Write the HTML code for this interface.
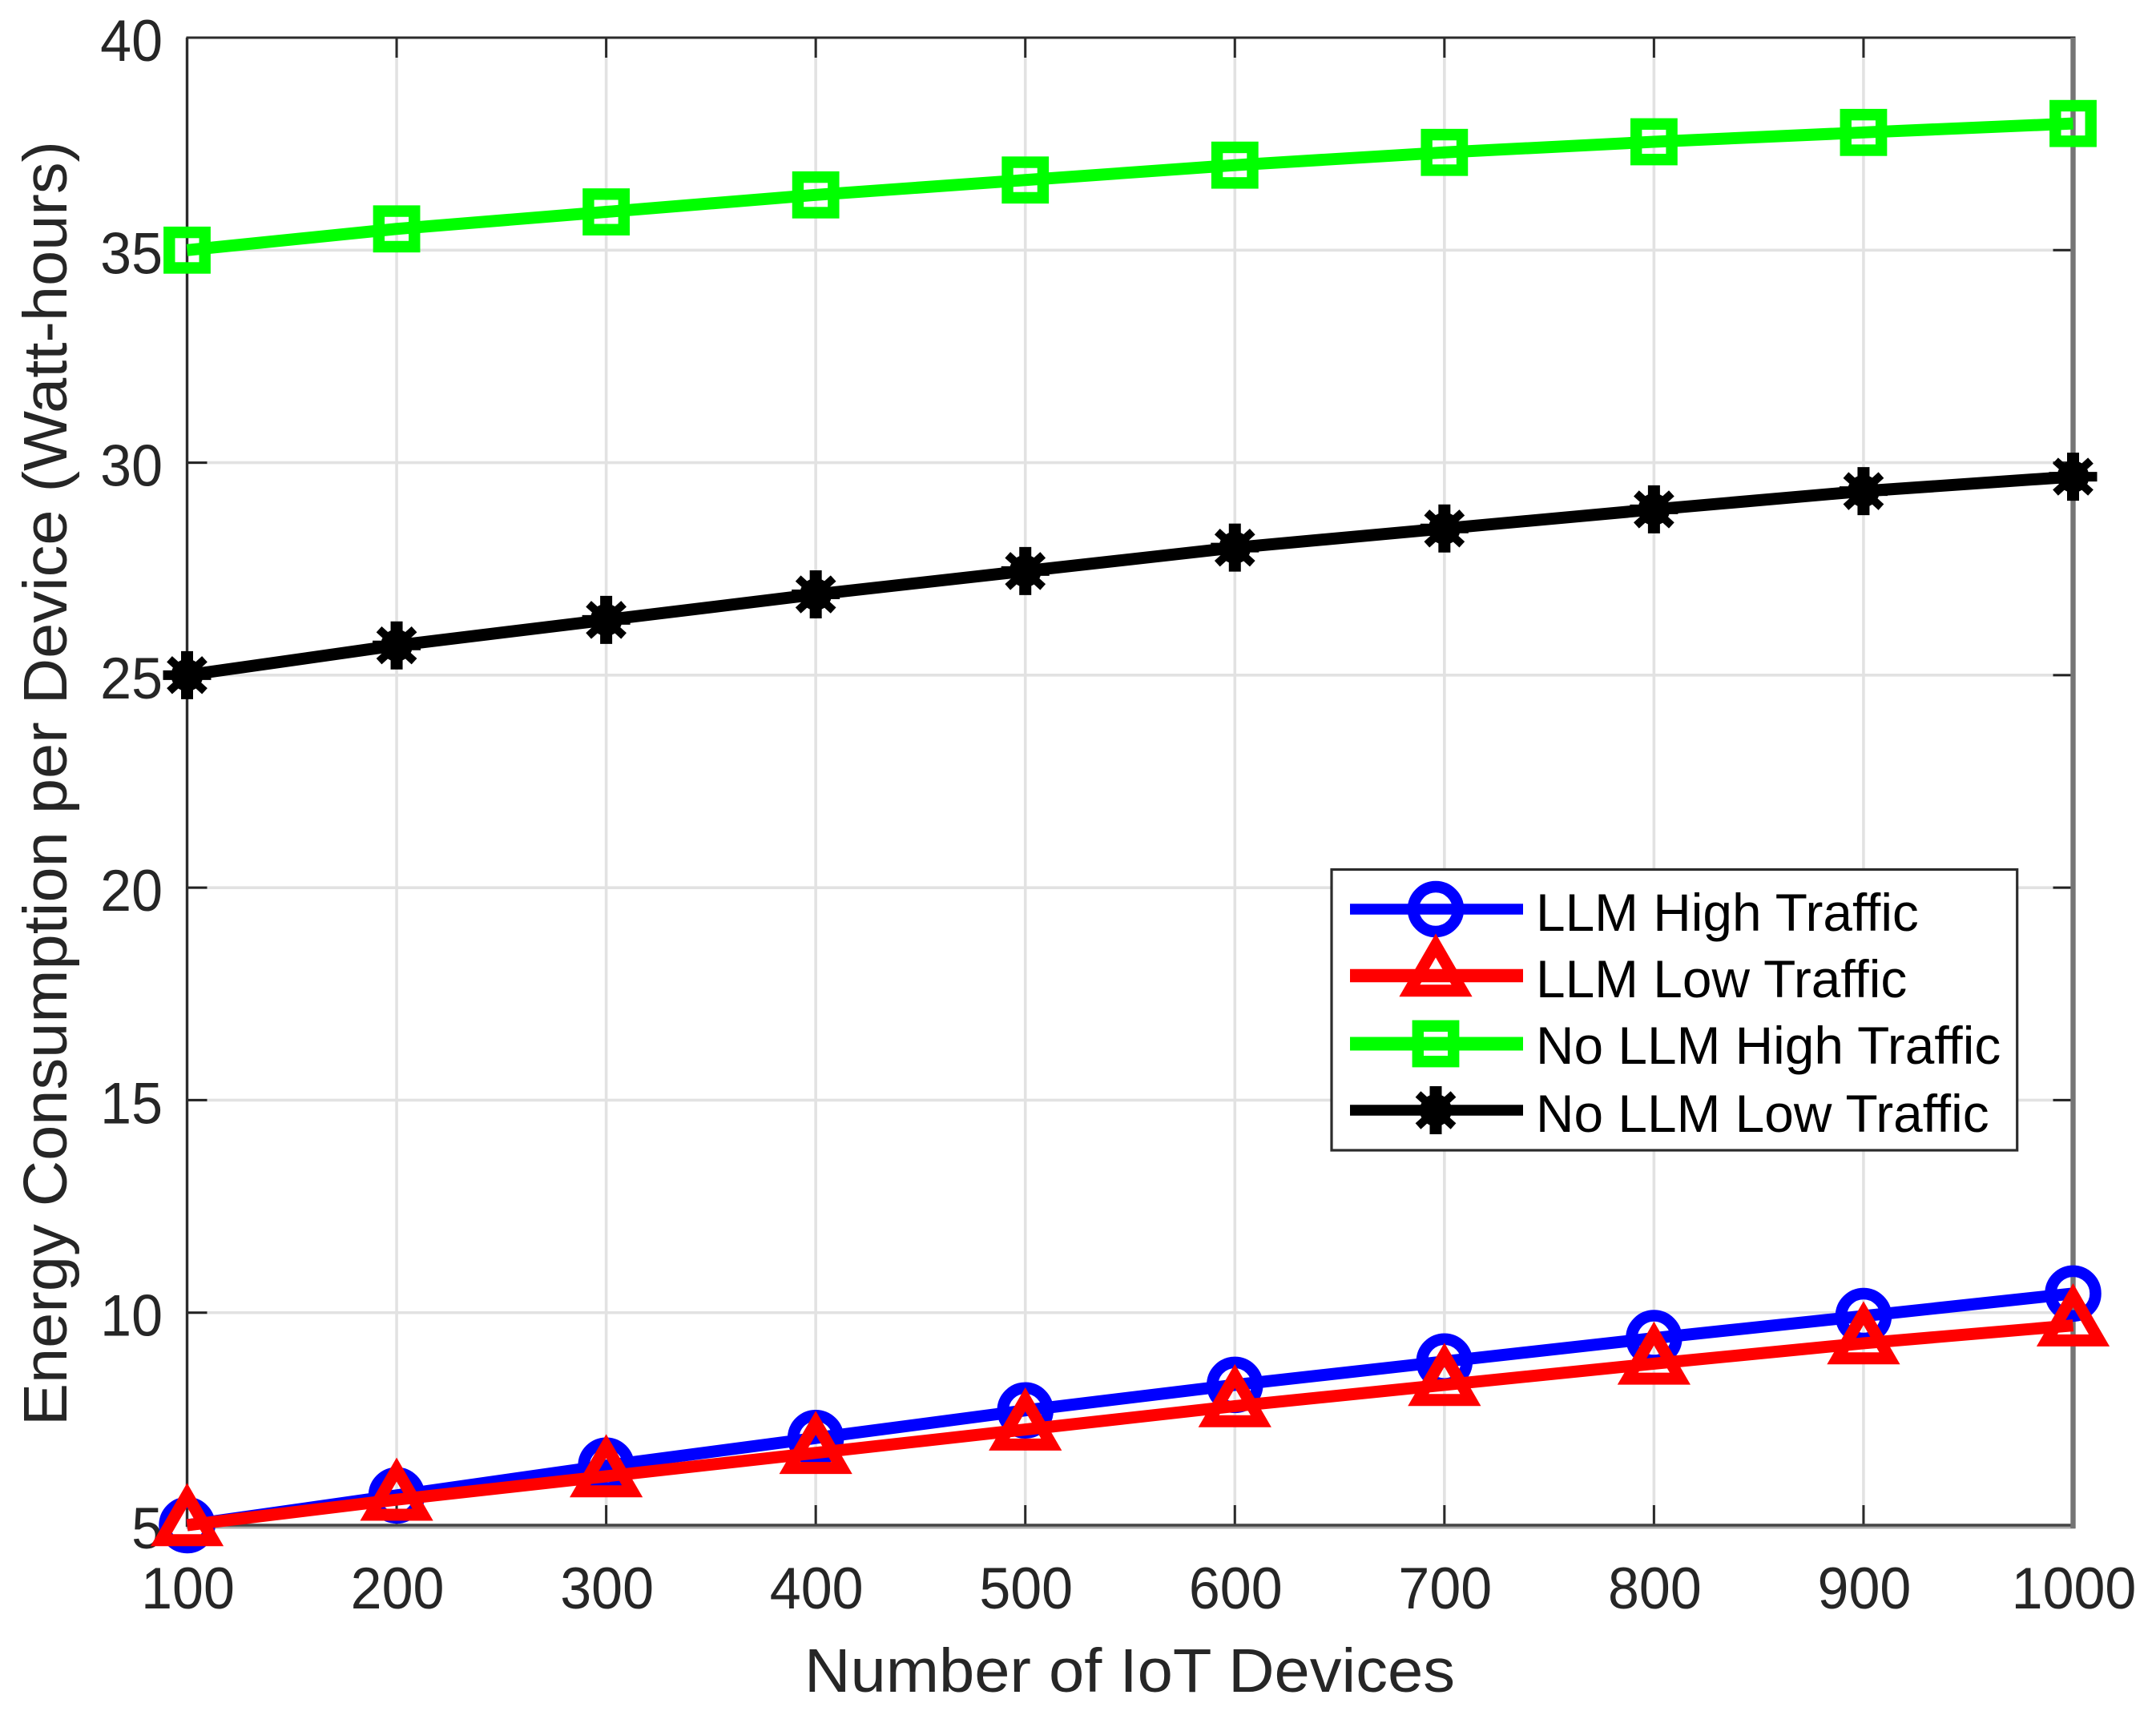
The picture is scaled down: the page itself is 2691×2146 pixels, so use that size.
<!DOCTYPE html>
<html lang="en">
<head>
<meta charset="utf-8">
<title>Energy Consumption per Device</title>
<style>
html,body{margin:0;padding:0;background:#fff;width:2691px;height:2146px;overflow:hidden}
svg{display:block;position:absolute;left:0;top:0}
text{font-family:"Liberation Sans",Arial,sans-serif}
</style>
</head>
<body>
<svg id="chart" xmlns="http://www.w3.org/2000/svg" width="2691" height="2146" viewBox="0 0 2691 2146">
  <rect x="0" y="0" width="2691" height="2146" fill="#fff"/>
  <g id="grid"></g>
  <g id="axes"></g>
  <g id="series"></g>
  <g id="legend"></g>
  <text x="1410" y="2112" font-size="77" fill="#262626" text-anchor="middle" textLength="812" lengthAdjust="spacingAndGlyphs">Number of IoT Devices</text>
  <text transform="translate(83,978) rotate(-90)" font-size="77" fill="#262626" text-anchor="middle" textLength="1604" lengthAdjust="spacingAndGlyphs">Energy Consumption per Device (Watt-hours)</text>
</svg>
<script>
const categories = [100, 200, 300, 400, 500, 600, 700, 800, 900, 1000];
const yTickValues = [5, 10, 15, 20, 25, 30, 35, 40];
const llmHighTraffic = [5, 5.7, 6.4, 7.05, 7.7, 8.3, 8.85, 9.4, 9.92, 10.45];
const llmLowTraffic = [5, 5.6, 6.15, 6.7, 7.25, 7.8, 8.3, 8.8, 9.28, 9.7];
const noLlmHighTraffic = [35, 35.5, 35.9, 36.3, 36.65, 37, 37.3, 37.55, 37.77, 37.98];
const noLlmLowTraffic = [25, 25.7, 26.3, 26.9, 27.45, 28, 28.45, 28.9, 29.33, 29.67];

const seriesNames = ['LLM High Traffic', 'LLM Low Traffic', 'No LLM High Traffic', 'No LLM Low Traffic'];
const seriesValues = [llmHighTraffic, llmLowTraffic, noLlmHighTraffic, noLlmLowTraffic];
const seriesColors = ['#0000ff', '#ff0000', '#00ff00', '#000000'];
const seriesMarkers = ['circle', 'triangle', 'square', 'star'];
const legendLineWidths = [13.5, 16.5, 17, 13.5];

const NS = 'http://www.w3.org/2000/svg';
const LINE_WIDTH = 15;
const plot = {left: 233.5, right: 2587.5, top: 47, bottom: 1904};
const xMin = 100, xMax = 1000, yMin = 5, yMax = 40;
function xScale(v) { return plot.left + (v - xMin) / (xMax - xMin) * (plot.right - plot.left); }
function yScale(v) { return plot.bottom - (v - yMin) / (yMax - yMin) * (plot.bottom - plot.top); }

function mk(parent, tag, attrs) {
  const el = document.createElementNS(NS, tag);
  for (const k in attrs) el.setAttribute(k, attrs[k]);
  parent.appendChild(el);
  return el;
}

const gridG = document.getElementById('grid');
const axesG = document.getElementById('axes');
const seriesG = document.getElementById('series');
const legendG = document.getElementById('legend');

/* grid */
categories.forEach(function (c) {
  if (c === xMin || c === xMax) return;
  const l = mk(gridG, 'line', {x1: xScale(c), x2: xScale(c), y1: plot.top, y2: plot.bottom, stroke: '#e2e2e2', 'stroke-width': 3.6});
  
  
});
yTickValues.forEach(function (v) {
  if (v === yMin || v === yMax) return;
  const l = mk(gridG, 'line', {x1: plot.left, x2: plot.right, y1: yScale(v), y2: yScale(v), stroke: '#e2e2e2', 'stroke-width': 3.6});
  
  
});

/* ticks and labels */
categories.forEach(function (c) {
  const x = xScale(c);
  const t1 = mk(axesG, 'line', {x1: x, x2: x, y1: plot.bottom, y2: plot.bottom - 25, stroke: '#2a2a2a', 'stroke-width': 3});
  
  
  const t2 = mk(axesG, 'line', {x1: x, x2: x, y1: plot.top, y2: plot.top + 25, stroke: '#2a2a2a', 'stroke-width': 3});
  
  
  const lab = mk(axesG, 'text', {transform: 'translate(' + (x + 1) + ',2008) scale(1,1.05)', 'font-size': 70, fill: '#262626', 'text-anchor': 'middle'});
  lab.textContent = String(c);
  
  
});
yTickValues.forEach(function (v) {
  const y = yScale(v);
  const t1 = mk(axesG, 'line', {x1: plot.left, x2: plot.left + 25, y1: y, y2: y, stroke: '#222', 'stroke-width': 3});
  
  
  const t2 = mk(axesG, 'line', {x1: plot.right, x2: plot.right - 25, y1: y, y2: y, stroke: '#222', 'stroke-width': 3});
  
  
  const lab = mk(axesG, 'text', {transform: 'translate(203,' + (y + 29) + ') scale(1,1.05)', 'font-size': 70, fill: '#262626', 'text-anchor': 'end'});
  lab.textContent = String(v);
  
  
});

/* axis box */
const axisTop = mk(axesG, 'line', {x1: plot.left - 1, x2: plot.right + 3, y1: plot.top, y2: plot.top, stroke: '#2c2c2c', 'stroke-width': 3});


const axisBottomShadow = mk(axesG, 'line', {x1: plot.left - 1, x2: plot.right + 3, y1: plot.bottom + 3, y2: plot.bottom + 3, stroke: '#aaa', 'stroke-width': 3});


const axisBottom = mk(axesG, 'line', {x1: plot.left - 1, x2: plot.right + 3, y1: plot.bottom, y2: plot.bottom, stroke: '#444', 'stroke-width': 3.6});


const axisLeft = mk(axesG, 'line', {x1: plot.left, x2: plot.left, y1: plot.top, y2: plot.bottom + 2, stroke: '#2c2c2c', 'stroke-width': 3.4});


const axisRight = mk(axesG, 'line', {x1: plot.right, x2: plot.right, y1: plot.top, y2: plot.bottom + 4, stroke: '#757575', 'stroke-width': 6.4});



/* markers */
function drawMarker(parent, kind, cx, cy, color) {
  const g = mk(parent, 'g', {fill: 'none', stroke: color});
  if (kind === 'circle') {
    mk(g, 'circle', {cx: cx, cy: cy, r: 28, 'stroke-width': 14.5});
  } else if (kind === 'triangle') {
    mk(g, 'polygon', {points: cx + ',' + (cy - 37.6) + ' ' + (cx + 32.6) + ',' + (cy + 18.8) + ' ' + (cx - 32.6) + ',' + (cy + 18.8), 'stroke-width': 15, 'stroke-miterlimit': 6});
  } else if (kind === 'square') {
    mk(g, 'rect', {x: cx - 22.2, y: cy - 22.2, width: 44.4, height: 44.4, 'stroke-width': 14.4});
  } else {
    mk(g, 'line', {x1: cx, x2: cx, y1: cy - 30, y2: cy + 30, 'stroke-width': 15});
    mk(g, 'line', {x1: cx - 30, x2: cx + 30, y1: cy, y2: cy, 'stroke-width': 12});
    mk(g, 'line', {x1: cx - 22, x2: cx + 22, y1: cy - 20, y2: cy + 20, 'stroke-width': 10});
    mk(g, 'line', {x1: cx - 22, x2: cx + 22, y1: cy + 20, y2: cy - 20, 'stroke-width': 10});
    mk(g, 'circle', {cx: cx, cy: cy, r: 20, fill: color, stroke: 'none'});
  }
  return g;
}

/* series */
seriesValues.forEach(function (vals, i) {
  const g = mk(seriesG, 'g', {});
  
  
  const pts = vals.map(function (v, j) { return xScale(categories[j]) + ',' + yScale(v); }).join(' ');
  const line = mk(g, 'polyline', {points: pts, fill: 'none', stroke: seriesColors[i], 'stroke-width': LINE_WIDTH, 'stroke-linejoin': 'round'});
  
  
  vals.forEach(function (v, j) {
    const m = drawMarker(g, seriesMarkers[i], xScale(categories[j]), yScale(v), seriesColors[i]);
    
    
  });
});

/* legend */
const legendBox = mk(legendG, 'rect', {x: 1662, y: 1085.5, width: 855.7, height: 350.5, fill: '#fff', stroke: '#2c2c2c', 'stroke-width': 3.2});


const legendRowY = [1135, 1218, 1303, 1386];
const legendBaseY = [1162, 1245, 1328, 1413];
seriesNames.forEach(function (name, i) {
  const g = mk(legendG, 'g', {});
  
  
  const line = mk(g, 'line', {x1: 1685, x2: 1901, y1: legendRowY[i], y2: legendRowY[i], stroke: seriesColors[i], 'stroke-width': legendLineWidths[i]});
  
  
  const m = drawMarker(g, seriesMarkers[i], 1792, legendRowY[i], seriesColors[i]);
  
  
  const t = mk(g, 'text', {x: 1917, y: legendBaseY[i], 'font-size': 65.8, fill: '#000'});
  t.textContent = name;
  
  
});
</script>
</body>
</html>
